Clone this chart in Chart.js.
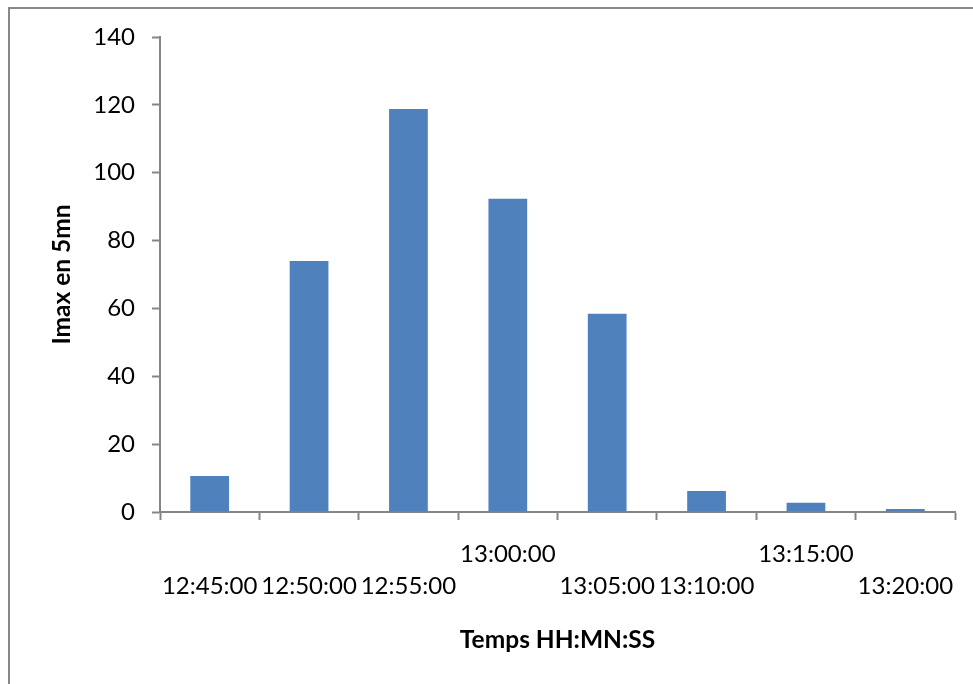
<!DOCTYPE html>
<html>
<head>
<meta charset="utf-8">
<script src="https://cdn.jsdelivr.net/npm/chart.js@4/dist/chart.umd.min.js"></script>
<style>
  html, body { margin: 0; padding: 0; background: #fff; }
  #wrap { position: relative; width: 973px; height: 684px; overflow: hidden; }
  #frame { position: absolute; left: 8px; top: 7px; width: 1000px; height: 1000px;
           border-left: 2px solid #888; border-top: 2px solid #888; box-sizing: border-box; }
  canvas { position: absolute; left: 0; top: 0; }
</style>
</head>
<body>
<div id="wrap">
  <div id="frame"></div>
  <canvas id="myChart" width="973" height="684"></canvas>
</div>
<script>
// time stamps, every 5 minutes
const times = ['12:45:00', '12:50:00', '12:55:00', '13:00:00', '13:05:00', '13:10:00', '13:15:00', '13:20:00'];
// which labels sit on the upper row (staggered like the spreadsheet did it)
const upperRow = [false, false, false, true, false, false, true, false];
// Imax over 5 minutes
const imax = [10.6, 74, 118.8, 92.3, 58.4, 6.2, 2.7, 0.9];
const yTicks = [0, 20, 40, 60, 80, 100, 120, 140];

const labels = times.map((t, i) => upperRow[i] ? [t, ''] : ['', t]);

const axisGray = '#868686';
const font = 'Lato, "Open Sans", sans-serif';

const ctx = document.getElementById('myChart').getContext('2d');
new Chart(ctx, {
    type: 'bar',
    data: {
        labels: labels,
        datasets: [{
            label: 'Imax en 5mn',
            data: imax,
            backgroundColor: '#4F81BD',
            borderWidth: 0,
            barPercentage: 0.39,
            categoryPercentage: 1.0
        }]
    },
    options: {
        responsive: false,
        animation: false,
        layout: {
            padding: { left: 10, right: 18, top: 37, bottom: 22 }
        },
        plugins: {
            legend: { display: false },
            tooltip: { enabled: false }
        },
        scales: {
            x: {
                offset: true,
                afterFit: (s) => { s.height = 150; },
                border: { color: axisGray, width: 2 },
                grid: {
                    offset: true,
                    drawOnChartArea: false,
                    drawTicks: true,
                    tickLength: 8,
                    tickColor: axisGray,
                    tickWidth: 2
                },
                ticks: {
                    autoSkip: false,
                    maxRotation: 0,
                    minRotation: 0,
                    padding: 18,
                    color: '#000',
                    font: { family: font, size: 24, lineHeight: '32px' }
                },
                title: {
                    display: true,
                    text: 'Temps HH:MN:SS',
                    color: '#000',
                    padding: { top: 0, bottom: 7 },
                    font: { family: font, size: 24.5, weight: 'bold', lineHeight: 1.2 }
                }
            },
            y: {
                min: 0,
                max: 140,
                afterFit: (s) => { s.width = 150; },
                afterBuildTicks: (s) => { s.ticks = yTicks.map(v => ({ value: v })); },
                border: { color: axisGray, width: 2 },
                grid: {
                    drawOnChartArea: false,
                    drawTicks: true,
                    tickLength: 8,
                    tickColor: axisGray,
                    tickWidth: 2
                },
                ticks: {
                    padding: 17,
                    color: '#000',
                    font: { family: font, size: 24 }
                },
                title: {
                    display: true,
                    text: 'Imax en 5mn',
                    color: '#000',
                    padding: { top: 37, bottom: 0 },
                    font: { family: font, size: 24.5, weight: 'bold', lineHeight: 1.2 }
                }
            }
        }
    }
});
</script>
</body>
</html>
